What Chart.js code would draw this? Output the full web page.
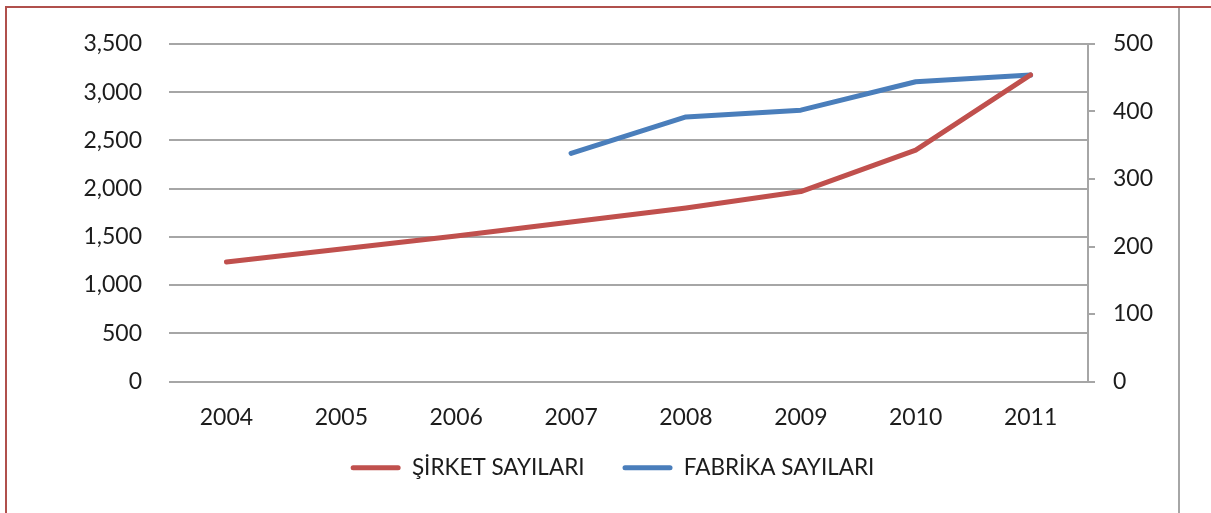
<!DOCTYPE html>
<html>
<head>
<meta charset="utf-8">
<script src="https://cdn.jsdelivr.net/npm/chart.js@4.4.1/dist/chart.umd.min.js"></script>
<style>
  body { margin: 0; background: #fff; }
  #wrap { position: relative; width: 1211px; height: 513px; }
  #frame { position: absolute; left: 5px; top: 6px; right: 0; bottom: 0;
           border-top: 2px solid #b0504c; border-left: 2px solid #b0504c; pointer-events: none; }
  #rline { position: absolute; left: 1178px; top: 8px; width: 2px; bottom: 0; background: #a6a6a6; }
</style>
</head>
<body>
<div id="wrap">
  <canvas id="chart" width="1211" height="513"></canvas>
  <div id="frame"></div>
  <div id="rline"></div>
</div>
<script>
var years = ['2004', '2005', '2006', '2007', '2008', '2009', '2010', '2011'];
var sirketSayilari = [1240, 1375, 1510, 1655, 1800, 1970, 2400, 3180];
var fabrikaSayilari = [null, null, null, 338, 392, 402, 444, 454];

var gridGray = '#a6a6a6';
var textColor = '#1c1c1c';
var fontFamily = 'Lato, "Open Sans", sans-serif';

// move the legend up a bit, it needs a wide label padding for the gap between items
var legendShift = {
  id: 'legendShift',
  afterLayout: function(chart) {
    var lg = chart.legend;
    if (!lg) return;
    lg.top -= 18;
    lg.bottom -= 18;
  }
};

var ctx = document.getElementById('chart');
var myChart = new Chart(ctx, {
  type: 'line',
  data: {
    labels: years,
    datasets: [
      {
        label: 'ŞİRKET SAYILARI',
        data: sirketSayilari,
        borderColor: '#c0504d',
        backgroundColor: '#c0504d',
        borderWidth: 5,
        borderCapStyle: 'round',
        borderJoinStyle: 'round',
        pointRadius: 0,
        tension: 0,
        yAxisID: 'y'
      },
      {
        label: 'FABRİKA SAYILARI',
        data: fabrikaSayilari,
        borderColor: '#4a7ebb',
        backgroundColor: '#4a7ebb',
        borderWidth: 5,
        borderCapStyle: 'round',
        borderJoinStyle: 'round',
        pointRadius: 0,
        tension: 0,
        yAxisID: 'y2'
      }
    ]
  },
  plugins: [legendShift],
  options: {
    responsive: false,
    animation: false,
    layout: { padding: { left: 14, right: 0, top: 44, bottom: 6 } },
    plugins: {
      tooltip: { enabled: false },
      legend: {
        position: 'bottom',
        labels: {
          color: textColor,
          font: { family: fontFamily, size: 22.5 },
          boxWidth: 50,
          boxHeight: 5,
          padding: 38,
          useBorderRadius: true,
          borderRadius: 2.5,
          generateLabels: function(chart) {
            var items = Chart.defaults.plugins.legend.labels.generateLabels(chart);
            items.forEach(function(it) {
              it.fillStyle = it.strokeStyle;
              it.lineWidth = 0;
            });
            return items;
          }
        }
      }
    },
    scales: {
      x: {
        offset: true,
        grid: { display: false, drawTicks: false, offset: true },
        border: { display: false },
        ticks: { color: textColor, font: { family: fontFamily, size: 23 }, padding: 22 },
        afterFit: function(scale) { scale.height = 55; }
      },
      y: {
        position: 'left',
        min: 0,
        max: 3500,
        ticks: {
          stepSize: 500,
          color: textColor,
          font: { family: fontFamily, size: 23 },
          padding: 27,
          callback: function(v) { return v.toLocaleString('en-US'); }
        },
        grid: { color: gridGray, lineWidth: 2, drawTicks: false },
        border: { display: false },
        afterFit: function(scale) { scale.width = 155; }
      },
      y2: {
        position: 'right',
        min: 0,
        max: 500,
        ticks: {
          stepSize: 100,
          color: textColor,
          font: { family: fontFamily, size: 23 },
          padding: 18
        },
        grid: { drawOnChartArea: false, color: gridGray, lineWidth: 2, tickLength: 7 },
        border: { display: true, color: gridGray, width: 2 },
        afterFit: function(scale) { scale.width = 123; }
      }
    }
  }
});
</script>
</body>
</html>
